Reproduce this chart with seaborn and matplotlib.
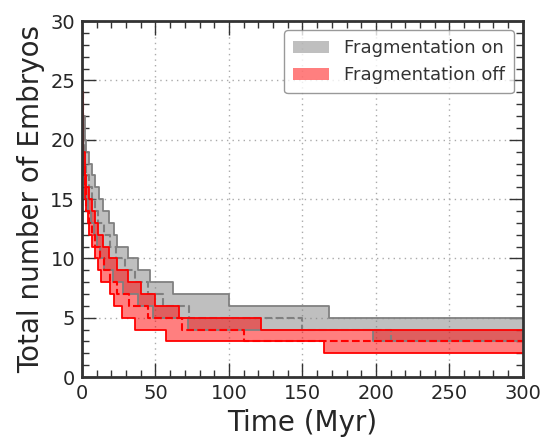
import numpy as np
import pandas as pd
import matplotlib
matplotlib.use("Agg")
import matplotlib.pyplot as plt
import seaborn as sns
from matplotlib.patches import Patch
from matplotlib.ticker import MultipleLocator

# ---- data (step functions: time in Myr, number of embryos) ----
on_hi_t = [0, 1, 2, 3, 5, 7, 9, 11.5, 14, 18.5, 22, 24, 31, 38, 46, 62, 100, 168, 300]
on_hi_y = [24, 22, 20, 19, 18, 17, 16, 15, 14, 13, 12, 11, 10, 9, 8, 7, 6, 5, 5]

on_med_t = [0, 1, 2, 3, 5, 7, 9, 11, 15, 19, 23, 29, 36, 45, 55, 73, 150, 210, 300]
on_med_y = [24, 20, 18, 17, 16, 15, 14, 13, 12, 11, 10, 9, 8, 7, 6, 5, 4, 3, 3]

on_lo_t = [0, 0.5, 1, 2, 3, 4, 6, 8, 10, 12, 15, 21, 28, 38, 48, 72, 198, 300]
on_lo_y = [24, 21, 19, 17, 15, 14, 13, 12, 11, 10, 9, 8, 7, 6, 5, 4, 3, 3]

off_hi_t = [0, 0.5, 1, 2, 3, 5, 7, 9, 11, 14, 18.5, 24, 31, 40, 50, 66, 122, 300]
off_hi_y = [24, 21, 19, 17, 16, 15, 14, 13, 12, 11, 10, 9, 8, 7, 6, 5, 4, 4]

off_med_t = [0, 1, 2, 3, 5, 7, 9, 12, 15, 19, 24, 32, 45, 68, 110, 300]
off_med_y = [24, 18, 16, 14, 13, 12, 11, 10, 9, 8, 7, 6, 5, 4, 3, 3]

off_lo_t = [0, 0.5, 1, 2, 3, 4, 5, 7, 9, 11, 13, 19, 22, 27, 36, 57, 165, 300]
off_lo_y = [24, 20, 17, 15, 14, 13, 12, 11, 10, 9, 8, 7, 6, 5, 4, 3, 2, 2]

labels = ["Fragmentation on", "Fragmentation off"]


def step_eval(t, y, grid):
    t = np.asarray(t, float)
    y = np.asarray(y, float)
    idx = np.searchsorted(t, grid, side="right") - 1
    return y[np.clip(idx, 0, len(y) - 1)]


sns.set_style("ticks")
plt.rcParams["font.family"] = ["DejaVu Sans"]

fig = plt.figure(figsize=(5.58, 4.41), dpi=100)
ax = fig.add_axes([0.147, 0.145, 0.79, 0.807])

bands = [
    (on_lo_t, on_lo_y, on_hi_t, on_hi_y, on_med_t, on_med_y, "gray"),
    (off_lo_t, off_lo_y, off_hi_t, off_hi_y, off_med_t, off_med_y, "red"),
]

for lo_t, lo_y, hi_t, hi_y, med_t, med_y, col in bands:
    grid = np.unique(np.concatenate([lo_t, hi_t]))
    lo = step_eval(lo_t, lo_y, grid)
    hi = step_eval(hi_t, hi_y, grid)
    ax.fill_between(grid, lo, hi, step="post", color=col, alpha=0.5, lw=0)
    for tt, yy in [(lo_t, lo_y), (hi_t, hi_y)]:
        df = pd.DataFrame({"t": tt, "n": yy})
        sns.lineplot(data=df, x="t", y="n", ax=ax, color=col, lw=1.3,
                     drawstyle="steps-post", estimator=None, sort=False)
    dfm = pd.DataFrame({"t": med_t, "n": med_y})
    sns.lineplot(data=dfm, x="t", y="n", ax=ax, color=col, lw=1.5,
                 linestyle="--", drawstyle="steps-post", estimator=None, sort=False)

ax.set_xlim(0, 300)
ax.set_ylim(0, 30)
ax.xaxis.set_major_locator(MultipleLocator(50))
ax.xaxis.set_minor_locator(MultipleLocator(10))
ax.yaxis.set_major_locator(MultipleLocator(5))
ax.yaxis.set_minor_locator(MultipleLocator(1))
ax.tick_params(which="both", direction="in", top=True, right=True, labelsize=14,
               color="#333333", labelcolor="#262626", pad=5)
ax.tick_params(which="major", length=10, width=1)
ax.tick_params(which="minor", length=5, width=1)
ax.grid(True, which="major", linestyle=(0, (1, 3)), color="#aaaaaa", lw=1)
for s in ax.spines.values():
    s.set_linewidth(2)
    s.set_color("#333333")

ax.set_xlabel("Time (Myr)", fontsize=20, color="#262626")
ax.set_ylabel("Total number of Embryos", fontsize=20, color="#262626")

handles = [Patch(facecolor="gray", alpha=0.5, edgecolor="none", label=labels[0]),
           Patch(facecolor="red", alpha=0.5, edgecolor="none", label=labels[1])]
leg = ax.legend(handles=handles, loc="upper right", fontsize=13, frameon=True,
                fancybox=True, borderpad=0.5)
leg.get_frame().set_edgecolor("gray")
for t in leg.get_texts():
    t.set_color("#333333")

fig.savefig("out.png", dpi=100)
